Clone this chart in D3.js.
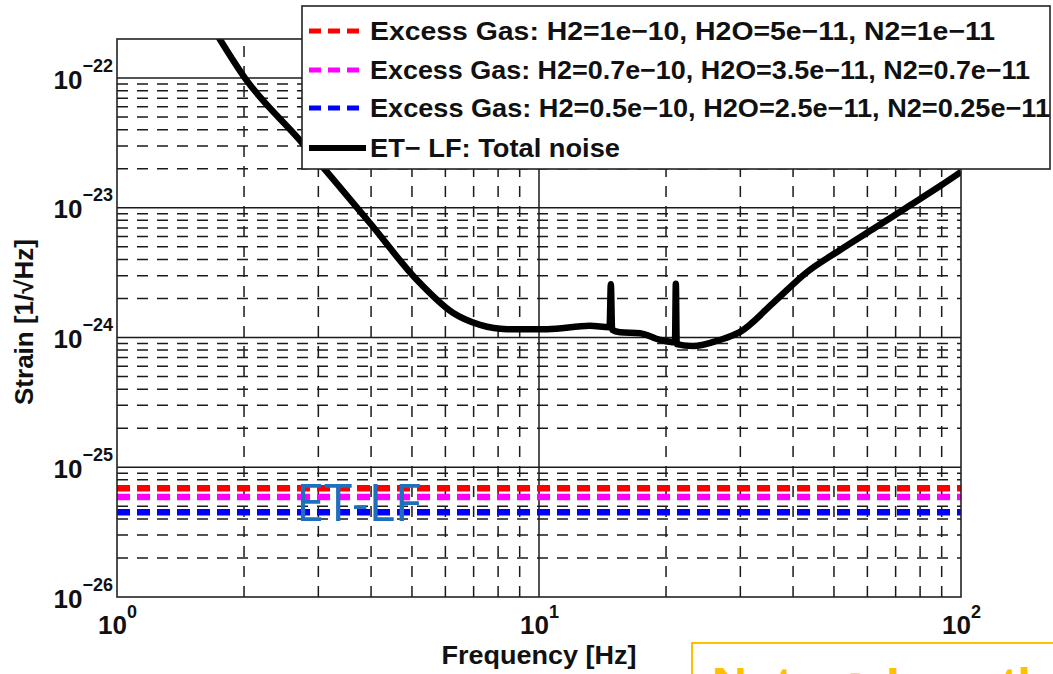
<!DOCTYPE html>
<html>
<head>
<meta charset="utf-8">
<script src="https://cdn.jsdelivr.net/npm/d3@7"></script>
<style>
  body { margin: 0; background: #fff; }
  text { font-family: "Liberation Sans", Arial, sans-serif; font-weight: bold; fill: #111; }
</style>
</head>
<body>
<div id="chart"></div>
<script>
// ET-LF total noise
var noiseFreq = [1.70, 2.01, 2.71, 3.98, 5.14, 6.25, 7.25, 8.40, 10.45, 13.2, 14.7, 14.8, 14.9,
                 15.56, 17.35, 19.35, 21.0, 21.1, 21.2, 23.2, 26.8, 29.9, 35.9, 43.2, 51.7, 61.9, 74.5, 89.2, 100];
var noiseStrain = [2.34e-22, 1.0e-22, 3.33e-23, 7.6e-24, 2.77e-24, 1.55e-24, 1.25e-24, 1.16e-24, 1.16e-24,
                   1.23e-24, 1.2e-24, 2.58e-24, 1.15e-24, 1.10e-24, 1.08e-24, 9.6e-25, 9.2e-25, 2.6e-24, 8.9e-25,
                   8.6e-25, 9.57e-25, 1.10e-24, 1.85e-24, 3.2e-24, 4.72e-24, 6.85e-24, 1.01e-23, 1.47e-23, 1.89e-23];
var noiseLabel = "ET\u2212 LF: Total noise";

// excess gas levels (flat lines)
var gasLabels = ["Excess Gas: H2=1e\u221210, H2O=5e\u221211, N2=1e\u221211",
                 "Excess Gas: H2=0.7e\u221210, H2O=3.5e\u221211, N2=0.7e\u221211",
                 "Excess Gas: H2=0.5e\u221210, H2O=2.5e\u221211, N2=0.25e\u221211"];
var gasStrain = [6.9e-26, 5.9e-26, 4.5e-26];

var xTicks = [1, 10, 100];
var xTickExp = ["0", "1", "2"];
var yTicks = [1e-26, 1e-25, 1e-24, 1e-23, 1e-22];
var yTickExp = ["\u221226", "\u221225", "\u221224", "\u221223", "\u221222"];

var palette = ["#ff0000", "#ff00ff", "#0000ff"];

var width = 1053;
var height = 674;
var plot = {x0: 117, x1: 961, y0: 39, y1: 597};

var x = d3.scaleLog().domain([1, 100]).range([plot.x0, plot.x1]);
var y = d3.scaleLog().domain([1e-26, 2e-22]).range([plot.y1, plot.y0]);

function isDecade(v) {
    var l = Math.log10(v);
    return Math.abs(l - Math.round(l)) < 1e-9;
}

var svg = d3.select("#chart")
    .append("svg")
    .attr("width", width)
    .attr("height", height);

svg.append("defs").append("clipPath")
    .attr("id", "plotclip")
    .append("rect")
    .attr("x", plot.x0).attr("y", plot.y0)
    .attr("width", plot.x1 - plot.x0).attr("height", plot.y1 - plot.y0);

// grid
var grid = svg.append("g");
grid.selectAll(".vgrid")
    .data(x.ticks().filter(d => d > 1 && d < 100))
    .enter()
    .append("line")
    .attr("x1", d => x(d)).attr("x2", d => x(d))
    .attr("y1", plot.y1).attr("y2", plot.y0)
    .style("stroke", "#1a1a1a")
    .style("stroke-width", 1.5)
    .style("stroke-dasharray", d => isDecade(d) ? null : "11,9");
grid.selectAll(".hgrid")
    .data(y.ticks().filter(d => y(d) < plot.y1 - 1 && y(d) > plot.y0 + 1))
    .enter()
    .append("line")
    .attr("x1", plot.x0).attr("x2", plot.x1)
    .attr("y1", d => y(d)).attr("y2", d => y(d))
    .style("stroke", "#1a1a1a")
    .style("stroke-width", 1.5)
    .style("stroke-dasharray", d => isDecade(d) ? null : "11,9");

var line = d3.line()
    .x(d => x(d[0]))
    .y(d => y(d[1]));

// excess gas lines
svg.append("g")
    .attr("clip-path", "url(#plotclip)")
    .selectAll("path")
    .data(gasStrain.map(v => x.domain().map(f => [f, v])))
    .enter()
    .append("path")
    .attr("d", line)
    .style("fill", "none")
    .style("stroke", (d, i) => palette[i])
    .style("stroke-width", 6.5)
    .style("stroke-dasharray", "13,7");

// total noise curve
svg.append("path")
    .datum(noiseFreq.map((f, i) => [f, noiseStrain[i]]))
    .attr("clip-path", "url(#plotclip)")
    .attr("d", line.curve(d3.curveMonotoneX))
    .style("fill", "none")
    .style("stroke", "#000")
    .style("stroke-width", 6.5)
    .style("stroke-linejoin", "round");

svg.append("text")
    .attr("x", 296)
    .attr("y", 521)
    .attr("textLength", 125)
    .attr("lengthAdjust", "spacingAndGlyphs")
    .style("font-family", "'Open Sans', sans-serif")
    .style("font-weight", "normal")
    .style("font-size", "52px")
    .style("fill", "#1f6fbf")
    .text("ET-LF");

// axes box
svg.append("rect")
    .attr("x", plot.x0).attr("y", plot.y0)
    .attr("width", plot.x1 - plot.x0).attr("height", plot.y1 - plot.y0)
    .style("fill", "none")
    .style("stroke", "#222")
    .style("stroke-width", 1.6);

// tick labels
var gx = svg.append("g")
    .attr("transform", "translate(0," + plot.y1 + ")")
    .call(d3.axisBottom(x).tickValues(xTicks).tickSize(0).tickFormat(""));
gx.select(".domain").remove();
gx.selectAll(".tick text")
    .attr("y", 37)
    .attr("dy", null)
    .style("text-anchor", "middle")
    .each(function(d, i) {
        var t = d3.select(this);
        t.append("tspan").style("font-size", "26px").text("10");
        t.append("tspan").style("font-size", "18px").attr("dy", -16).text(xTickExp[i]);
    });

var gy = svg.append("g")
    .attr("transform", "translate(" + plot.x0 + ",0)")
    .call(d3.axisLeft(y).tickValues(yTicks).tickSize(0).tickFormat(""));
gy.select(".domain").remove();
gy.selectAll(".tick text")
    .attr("x", -4)
    .attr("y", 10)
    .attr("dy", null)
    .style("text-anchor", "end")
    .each(function(d, i) {
        var t = d3.select(this);
        t.append("tspan").style("font-size", "26px").text("10");
        t.append("tspan").style("font-size", "18px").attr("dy", -17).text(yTickExp[i]);
    });

svg.append("text")
    .attr("x", (plot.x0 + plot.x1) / 2)
    .attr("y", 664)
    .attr("text-anchor", "middle")
    .attr("textLength", 195)
    .attr("lengthAdjust", "spacingAndGlyphs")
    .style("font-size", "26px")
    .text("Frequency [Hz]");

svg.append("text")
    .attr("transform", "translate(33,322) rotate(-90)")
    .attr("text-anchor", "middle")
    .attr("textLength", 166)
    .attr("lengthAdjust", "spacingAndGlyphs")
    .style("font-size", "25px")
    .text("Strain [1/\u221AHz]");

// legend
var legend = svg.append("g");
legend.append("rect")
    .attr("x", 302).attr("y", 6)
    .attr("width", 748).attr("height", 163)
    .style("fill", "#fff")
    .style("stroke", "#222")
    .style("stroke-width", 1.6);

var legendItems = gasLabels.map((l, i) => ({label: l, color: palette[i], dash: "12,7", w: 5}))
    .concat([{label: noiseLabel, color: "#000", dash: null, w: 6}]);
var legendWidths = [625, 660, 680, 250];
var legendY = [31, 70, 108, 148];

var item = legend.selectAll(".item")
    .data(legendItems)
    .enter()
    .append("g")
    .attr("transform", (d, i) => "translate(0," + legendY[i] + ")");
item.append("line")
    .attr("x1", 309).attr("x2", 366)
    .style("stroke", d => d.color)
    .style("stroke-width", d => d.w)
    .style("stroke-dasharray", d => d.dash);
item.append("text")
    .attr("x", 370)
    .attr("y", 9)
    .attr("textLength", (d, i) => legendWidths[i])
    .attr("lengthAdjust", "spacingAndGlyphs")
    .style("font-size", "26px")
    .text(d => d.label);

// yellow note box, cut off at the bottom right as in the source
svg.append("rect")
    .attr("x", 692).attr("y", 643)
    .attr("width", 420).attr("height", 100)
    .style("fill", "none")
    .style("stroke", "#ffc000")
    .style("stroke-width", 2);
svg.append("text")
    .attr("x", 712)
    .attr("y", 694)
    .attr("textLength", 335)
    .attr("lengthAdjust", "spacingAndGlyphs")
    .style("font-size", "36px")
    .style("fill", "#ffc000")
    .text("Note \u2794 Length");
</script>
</body>
</html>
